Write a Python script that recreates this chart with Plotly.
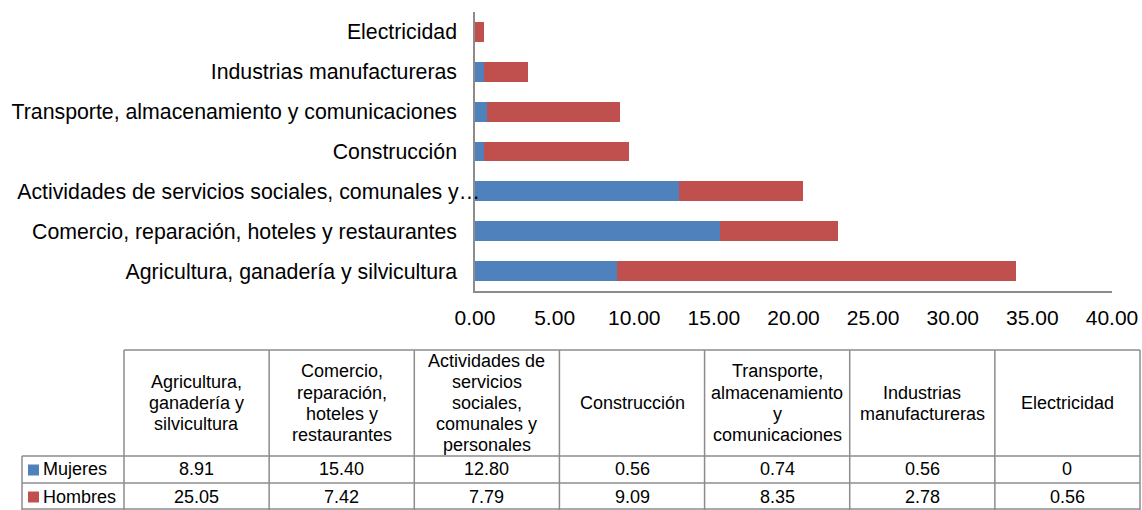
import plotly.graph_objects as go

# ---------------- data ----------------
categories = [
    "Agricultura, ganadería y silvicultura",
    "Comercio, reparación, hoteles y restaurantes",
    "Actividades de servicios sociales, comunales y personales",
    "Construcción",
    "Transporte, almacenamiento y comunicaciones",
    "Industrias manufactureras",
    "Electricidad",
]
axis_labels = [
    "Agricultura, ganadería y silvicultura",
    "Comercio, reparación, hoteles y restaurantes",
    "Actividades de servicios sociales, comunales y…",
    "Construcción",
    "Transporte, almacenamiento y comunicaciones",
    "Industrias manufactureras",
    "Electricidad",
]
table_headers = [
    "Agricultura,\nganadería y\nsilvicultura",
    "Comercio,\nreparación,\nhoteles y\nrestaurantes",
    "Actividades de\nservicios\nsociales,\ncomunales y\npersonales",
    "Construcción",
    "Transporte,\nalmacenamiento\ny\ncomunicaciones",
    "Industrias\nmanufactureras",
    "Electricidad",
]
series_names = ["Mujeres", "Hombres"]
mujeres = [8.91, 15.40, 12.80, 0.56, 0.74, 0.56, 0]
hombres = [25.05, 7.42, 7.79, 9.09, 8.35, 2.78, 0.56]
x_ticks = [0, 5, 10, 15, 20, 25, 30, 35, 40]

# ---------------- style ----------------
BLUE = "#4f81bd"
RED = "#c0504d"
GRID = "#8c8c8c"
FONT = "Liberation Sans, Arial, sans-serif"
W, H = 1142, 510
PL, PR, PT, PB = 475, 1112, 12, 291   # plot area in pixels
ML, MR, MT, MB = PL, W - PR, PT, H - PB
PW = PR - PL
PH = PB - PT


def px2x(px):
    return (px - PL) / PW


def py2y(py):
    return (PB - py) / PH


fig = go.Figure()
fig.add_trace(go.Bar(y=categories, x=mujeres, name=series_names[0], orientation="h",
                     marker=dict(color=BLUE, line=dict(width=0))))
fig.add_trace(go.Bar(y=categories, x=hombres, name=series_names[1], orientation="h",
                     marker=dict(color=RED, line=dict(width=0))))
# invisible helper on an overlaid category axis, carrying the one long label
fig.add_trace(go.Scatter(y=categories, x=mujeres, yaxis="y2", mode="markers",
                         marker=dict(opacity=0), hoverinfo="skip", showlegend=False))

# ---------------- data table (drawn below the chart) ----------------
shapes = []
annotations = []
col_left = 124
col_right = 1140
ncol = len(categories)
col_w = (col_right - col_left) / ncol
head_top, head_bot = 350, 456
row_h = 27
leg_left = 22
rows_bot = head_bot + 2 * row_h


def hline(x0, x1, y):
    shapes.append(dict(type="line", xref="paper", yref="paper",
                       x0=px2x(x0), x1=px2x(x1), y0=py2y(y), y1=py2y(y),
                       line=dict(color=GRID, width=1.5)))


def vline(x, y0, y1):
    shapes.append(dict(type="line", xref="paper", yref="paper",
                       x0=px2x(x), x1=px2x(x), y0=py2y(y0), y1=py2y(y1),
                       line=dict(color=GRID, width=1.5)))


hline(col_left, col_right, head_top)
hline(leg_left, col_right, head_bot)
hline(leg_left, col_right, head_bot + row_h)
hline(leg_left, col_right, rows_bot - 1)
for i in range(ncol + 1):
    vline(col_left + i * col_w, head_top, rows_bot)
vline(leg_left, head_bot, rows_bot)

head_center = (head_top + head_bot) / 2
line_sp = 21
for i, txt in enumerate(table_headers):
    lines = txt.split("\n")
    n = len(lines)
    cx = col_left + (i + 0.5) * col_w
    for j, ln in enumerate(lines):
        cy = head_center + (j - (n - 1) / 2) * line_sp
        annotations.append(dict(text=ln, xref="paper", yref="paper",
                                x=px2x(cx), y=py2y(cy), xanchor="center", yanchor="middle",
                                showarrow=False, font=dict(family=FONT, size=18, color="black")))


def fmt(v):
    return "0" if v == 0 else f"{v:.2f}"


for r, (vals, name, color) in enumerate([(mujeres, series_names[0], BLUE),
                                         (hombres, series_names[1], RED)]):
    cy = head_bot + (r + 0.5) * row_h
    for i, v in enumerate(vals):
        cx = col_left + (i + 0.5) * col_w
        annotations.append(dict(text=fmt(v), xref="paper", yref="paper",
                                x=px2x(cx), y=py2y(cy), xanchor="center", yanchor="middle",
                                showarrow=False, font=dict(family=FONT, size=18, color="black")))
    # legend key
    shapes.append(dict(type="rect", xref="paper", yref="paper",
                       x0=px2x(28), x1=px2x(39), y0=py2y(cy - 5), y1=py2y(cy + 6),
                       fillcolor=color, line=dict(width=0)))
    annotations.append(dict(text=name, xref="paper", yref="paper",
                            x=px2x(41), y=py2y(cy), xanchor="left", yanchor="middle",
                            showarrow=False, font=dict(family=FONT, size=18, color="black")))

long_idx = 2
main_vals = [c for k, c in enumerate(categories) if k != long_idx]
main_text = [t for k, t in enumerate(axis_labels) if k != long_idx]

fig.update_layout(
    template="none",
    barmode="stack",
    bargap=0.5,
    width=W, height=H,
    margin=dict(l=ML, r=MR, t=MT, b=MB, pad=0, autoexpand=False),
    paper_bgcolor="white",
    plot_bgcolor="white",
    showlegend=False,
    font=dict(family=FONT, size=21, color="black"),
    shapes=shapes,
    annotations=annotations,
    xaxis=dict(range=[0, 40], tickvals=x_ticks, tickformat=".2f", showgrid=False,
               zeroline=False, showline=True, linecolor=GRID, linewidth=1.5,
               automargin=False, ticks="", ticklabelstandoff=7,
               tickfont=dict(size=21, color="black")),
    yaxis=dict(categoryorder="array", categoryarray=categories,
               tickvals=main_vals, ticktext=main_text, showgrid=False,
               zeroline=False, showline=True, linecolor=GRID, linewidth=1.5,
               automargin=False, ticks="", ticklabelstandoff=12,
               tickfont=dict(size=21.3, color="black")),
    yaxis2=dict(overlaying="y", matches="y", side="left",
                categoryorder="array", categoryarray=categories,
                tickvals=[categories[long_idx]], ticktext=[axis_labels[long_idx]],
                showgrid=False, zeroline=False, showline=False,
                automargin=False, ticks="", ticklabelstandoff=-6,
                tickfont=dict(size=21.3, color="black")),
)

fig.write_html(
    "out.html",
    config={"displayModeBar": False},
    post_script="document.documentElement.style.overflow='hidden';"
                "document.body.style.margin='0';document.body.style.overflow='hidden';",
)
